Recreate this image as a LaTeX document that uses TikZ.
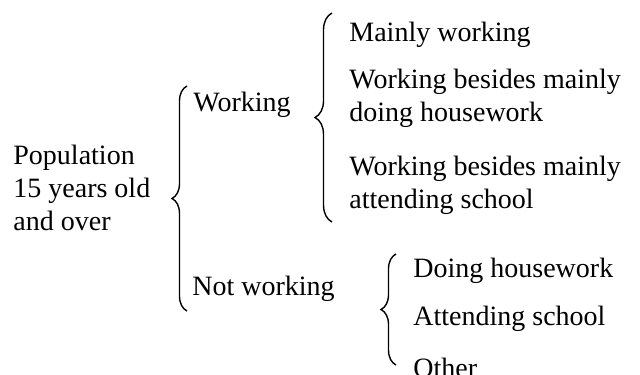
\documentclass[tikz,border=0pt]{standalone}
\usepackage{fontspec}
\setmainfont{Liberation Serif}
\usetikzlibrary{decorations.pathreplacing}

\begin{document}
\begin{tikzpicture}[x=0.5pt, y=-0.5pt,
  lbl/.style={anchor=base west, inner sep=0pt, align=left, font=\fontsize{14}{16.5}\selectfont},
  curly/.style={decorate, decoration={brace, amplitude=#1}, line width=0.7pt}]
\useasboundingbox (0,0) rectangle (640,374);

% multi-line nodes sit on their last baseline
\node[lbl] (pop) at (13,230) {Population\\15 years old\\and over};

\node[lbl] (work) at (193,111) {Working};
\node[lbl] (notwork) at (192,295) {Not working};

\node[lbl] (mainly) at (349,42) {Mainly working};
\node[lbl] (wkhouse) at (349,121) {Working besides mainly\\doing housework};
\node[lbl] (wkschool) at (349,208) {Working besides mainly\\attending school};

\node[lbl] (house) at (413,277) {Doing housework};
\node[lbl] (school) at (413,325) {Attending school};
\node[lbl] (other) at (413,377) {Other};

% brace ends
\coordinate (popbot) at (187,311);
\coordinate (poptop) at (187,86);
\coordinate (workbot) at (332,222);
\coordinate (worktop) at (332,13);
\coordinate (notbot) at (396,365);
\coordinate (nottop) at (396,254);

\draw[curly=7.5pt] (popbot) -- (poptop);
\draw[curly=8.5pt] (workbot) -- (worktop);
\draw[curly=7.5pt] (notbot) -- (nottop);
\end{tikzpicture}
\end{document}
